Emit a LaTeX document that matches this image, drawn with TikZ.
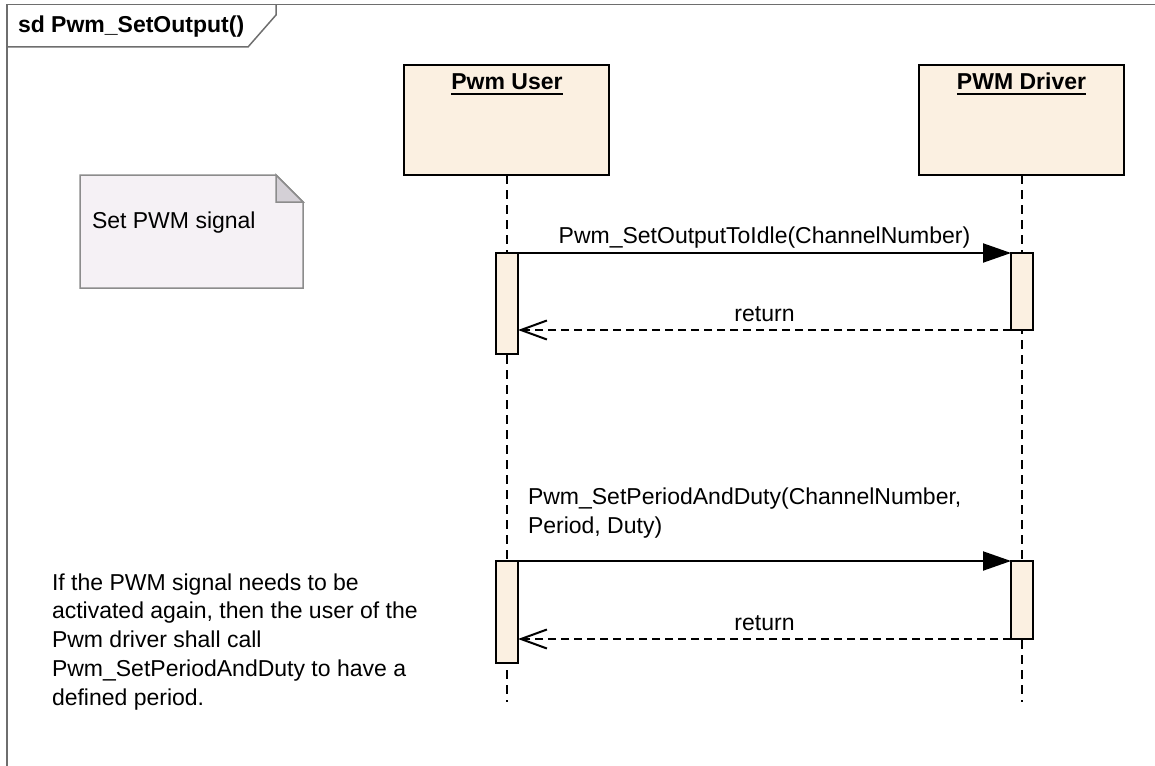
\documentclass[tikz,border=0pt]{standalone}
\usepackage{fontspec}
\setmainfont{Liberation Sans}
\usetikzlibrary{arrows.meta}
\definecolor{headfill}{HTML}{FBF0E1}
\definecolor{notefill}{HTML}{F5F1F5}
\definecolor{foldfill}{HTML}{D4D0D6}
\definecolor{framegray}{HTML}{6E6E6E}
\definecolor{notegray}{HTML}{8C8C8C}
\begin{document}
\begin{tikzpicture}[x=1pt,y=-1pt,
  every node/.style={font=\fontsize{23}{28.7}\selectfont, inner sep=0pt, outer sep=0pt},
  headbox/.style={draw=black, line width=2pt, fill=headfill, minimum width=205pt, minimum height=110pt},
  headlbl/.style={font=\fontsize{23}{28.7}\selectfont\bfseries, anchor=base},
  actbox/.style={draw=black, line width=2pt, fill=headfill, minimum width=22pt},
  lifeline/.style={line width=2pt, dash pattern=on 9pt off 6pt},
  callmsg/.style={line width=2pt, -{Triangle[length=28pt,width=19pt]}},
  retmsg/.style={line width=2pt, dash pattern=on 8pt off 5pt,
    -{Straight Barb[length=26pt,width=19pt,line width=2pt]}},
  msglbl/.style={anchor=base},
  framepen/.style={draw=framegray, line width=1.5pt},
  notepen/.style={draw=notegray, line width=1.5pt}
]
\useasboundingbox (0,0) rectangle (1155,765);

% interaction frame and its name tab
\draw[framepen] (7,767) -- (7,4.5) -- (1157,4.5);
\draw[framepen] (276,4.5) -- (276,15) -- (248,47) -- (7,47);
\node[anchor=base west, font=\fontsize{23}{28.7}\selectfont\bfseries] (sdtitle) at (18,33) {sd Pwm\_SetOutput()};

% comment note with folded corner
\node[minimum width=223pt, minimum height=113pt] (note) at (191.5,231.5) {};
\draw[notepen, fill=notefill] (note.north west) -- ([xshift=-27pt]note.north east)
  -- ([yshift=-27pt]note.north east) -- (note.south east) -- (note.south west) -- cycle;
\draw[notepen, fill=foldfill] ([xshift=-27pt]note.north east)
  -- ([xshift=-27pt,yshift=-27pt]note.north east) -- ([yshift=-27pt]note.north east) -- cycle;
\node[anchor=base west] (notetxt) at (92,228) {Set PWM signal};

% lifeline heads
\node[headbox] (user) at (506.5,120) {};
\node[headbox] (drv) at (1021.5,120) {};
\node[headlbl] (userlbl) at (507,90) {Pwm User};
\node[headlbl] (drvlbl) at (1021.5,90) {PWM Driver};
\draw[line width=2.2pt] ([yshift=-4pt]userlbl.base west) -- ([yshift=-4pt]userlbl.base east);
\draw[line width=2.2pt] ([yshift=-4pt]drvlbl.base west) -- ([yshift=-4pt]drvlbl.base east);

% lifelines
\coordinate (uend) at (507,702);
\coordinate (dend) at (1022,702);
\draw[lifeline] (user.south -| uend) -- (uend);
\draw[lifeline] (drv.south -| dend) -- (dend);

% activation bars
\node[actbox, minimum height=101pt] (ua1) at (507,303.5) {};
\node[actbox, minimum height=77pt] (da1) at (1022,291.5) {};
\node[actbox, minimum height=102pt] (ua2) at (507,612) {};
\node[actbox, minimum height=78pt] (da2) at (1022,600) {};

% first call and its return
\draw[callmsg] (ua1.north east) -- (da1.north west)
  node[msglbl, midway, yshift=10pt] {Pwm\_SetOutputToIdle(ChannelNumber)};
\draw[retmsg] (da1.south west) -- (ua1.east |- da1.south)
  node[msglbl, midway, yshift=9pt] {return};

% second call and its return (base anchor of a multi-line node sits on its last line)
\draw[callmsg] (ua2.north east) -- (da2.north west);
\node[anchor=base west, align=left] (m2lbl) at (528,533) {Pwm\_SetPeriodAndDuty(ChannelNumber,\\Period, Duty)};
\draw[retmsg] (da2.south west) -- (ua2.east |- da2.south)
  node[msglbl, midway, yshift=9pt] {return};

% free-standing explanation
\node[anchor=base west, align=left] (hint) at (52,705) {If the PWM signal needs to be\\activated again, then the user of the\\Pwm driver shall call\\Pwm\_SetPeriodAndDuty to have a\\defined period.};
\end{tikzpicture}
\end{document}
